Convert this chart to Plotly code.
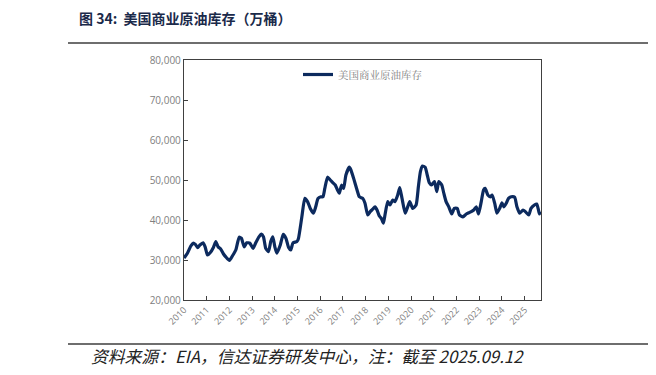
import plotly.graph_objects as go

years = [2010.0, 2010.15, 2010.3, 2010.4, 2010.5, 2010.6, 2010.7, 2010.84, 2010.93,
         2011.03, 2011.15, 2011.3, 2011.4, 2011.5, 2011.62, 2011.74, 2011.84,
         2012.0, 2012.13, 2012.28, 2012.43, 2012.53, 2012.65, 2012.76, 2012.9,
         2013.04, 2013.16, 2013.3, 2013.41, 2013.5, 2013.6, 2013.72, 2013.82, 2013.91,
         2014.0, 2014.09, 2014.24, 2014.37, 2014.49, 2014.6, 2014.7, 2014.8, 2014.97,
         2015.04, 2015.19, 2015.32, 2015.44, 2015.56, 2015.7, 2015.8, 2015.9,
         2016.03, 2016.12, 2016.2, 2016.32, 2016.44, 2016.56, 2016.66, 2016.76, 2016.84, 2016.94,
         2017.03, 2017.13, 2017.28, 2017.35, 2017.47, 2017.62, 2017.72, 2017.87, 2017.97,
         2018.09, 2018.2, 2018.31, 2018.41, 2018.5, 2018.6, 2018.69, 2018.78, 2018.85, 2018.97,
         2019.07, 2019.19, 2019.29, 2019.41, 2019.5, 2019.6, 2019.74, 2019.85, 2019.94,
         2020.07, 2020.22, 2020.32, 2020.41, 2020.5, 2020.62, 2020.71, 2020.8, 2020.9,
         2021.03, 2021.13, 2021.22, 2021.35, 2021.44, 2021.54, 2021.66, 2021.79, 2021.9,
         2022.03, 2022.13, 2022.28, 2022.43, 2022.54, 2022.65, 2022.76, 2022.87, 2022.97,
         2023.09, 2023.19, 2023.26, 2023.38, 2023.49, 2023.57, 2023.68, 2023.78, 2023.9,
         2024.0, 2024.09, 2024.19, 2024.29, 2024.41, 2024.56, 2024.66, 2024.78, 2024.93,
         2025.03, 2025.18, 2025.28, 2025.43, 2025.53, 2025.6, 2025.65, 2025.7]
stocks = [30500, 31700, 33500, 34200, 33900, 33100, 33750, 34300, 33300,
          31250, 31800, 33200, 34600, 33300, 32700, 31500, 30800,
          29900, 31000, 32500, 35700, 35400, 33300, 34300, 34200,
          32900, 34300, 35800, 36500, 35800, 32900, 32100, 34600, 35800,
          33300, 31700, 33750, 36400, 35400, 33200, 32500, 34300, 34600,
          35400, 40800, 45400, 44600, 42900, 41700, 43300, 45400,
          45800, 45800, 47900, 50700, 50000, 49300, 48750, 47500, 46700, 48750,
          47900, 51250, 53200, 52500, 50400, 47500, 45800, 45400, 44200,
          41250, 42100, 42700, 43300, 42500, 41000, 40400, 39200, 41250, 44600,
          43750, 45000, 44600, 46250, 48100, 45400, 41700, 43300, 44600,
          42900, 43750, 48300, 52100, 53500, 53200, 51250, 49300, 48750,
          49600, 47100, 49600, 48750, 46700, 44600, 43300, 41500, 42900,
          42900, 41250, 40800, 41500, 41800, 42100, 42500, 43300, 41500,
          44600, 47500, 47900, 46250, 45800, 46250, 44200, 41700, 42900,
          44300, 43300, 44200, 45400, 45800, 45700, 43300, 41700, 42500,
          42100, 41250, 42900, 43750, 44000, 42700, 41500, 42100]
tick_years = list(range(2010, 2026))
tick_labels = [str(y) for y in tick_years]
y_ticks = [20000, 30000, 40000, 50000, 60000, 70000, 80000]

# page offset (browser body margin) and plot box in page pixels
OFF = 8
PL, PR, PT, PB = 184, 541, 60, 300
W, H = 656 - OFF, 375 - OFF


def px(xp):
    return (xp - PL) / (PR - PL)


def py(yp):
    return (PB - yp) / (PB - PT)


fig = go.Figure()
fig.add_trace(go.Scatter(
    x=years, y=stocks, mode="lines", name="美国商业原油库存",
    line=dict(color="#0c2a5e", width=3.2, shape="spline", smoothing=0.5),
))

fig.update_layout(
    width=W, height=H,
    margin=dict(l=PL - OFF, r=W - (PR - OFF), t=PT - OFF, b=H - (PB - OFF), pad=0, autoexpand=False),
    paper_bgcolor="white", plot_bgcolor="white",
    font=dict(family="Noto Sans CJK SC, Noto Sans, sans-serif"),
    showlegend=True,
    legend=dict(x=0.5, y=1.0, xanchor="center", yanchor="top",
                bgcolor="rgba(0,0,0,0)",
                font=dict(size=10.5, color="#808080", family="Noto Serif CJK SC, Noto Sans CJK SC, serif"),
                itemwidth=30),
    xaxis=dict(
        range=[2010.0, 2025.72], tickmode="array", tickvals=tick_years,
        ticktext=tick_labels, tickangle=-45, ticks="inside", ticklen=4,
        tickcolor="#404040", showgrid=False, zeroline=False,
        showline=True, linecolor="#404040", linewidth=1.3, mirror=True,
        tickfont=dict(size=9, color="#808080", family="Open Sans, sans-serif"),
    ),
    yaxis=dict(
        range=[20000, 80000], tickmode="array", tickvals=y_ticks,
        tickformat=",", ticks="inside", ticklen=4, tickcolor="#404040",
        showgrid=False, zeroline=False,
        showline=True, linecolor="#404040", linewidth=1.3, mirror=True,
        tickfont=dict(size=10, color="#808080", family="Open Sans, sans-serif"),
    ),
)

# title, source and rules
fig.add_annotation(text="<b>图 34:  美国商业原油库存（万桶）</b>", xref="paper", yref="paper",
                   x=px(77), y=py(18), xanchor="left", yanchor="middle",
                   showarrow=False, font=dict(size=14, color="#1b2a4a",
                                              family="Noto Sans CJK SC, sans-serif"))
fig.add_annotation(text="<i>资料来源：EIA，信达证券研发中心，注：截至 2025.09.12</i>", xref="paper", yref="paper",
                   x=px(89), y=py(356), xanchor="left", yanchor="middle",
                   showarrow=False, font=dict(size=16.8, color="#222222",
                                              family="Noto Sans CJK SC, sans-serif"))
for yl in (43, 344):
    fig.add_shape(type="line", xref="paper", yref="paper",
                  x0=px(68), x1=px(660), y0=py(yl), y1=py(yl),
                  line=dict(color="#6e6e6e", width=2))

fig.write_html("out.html")
